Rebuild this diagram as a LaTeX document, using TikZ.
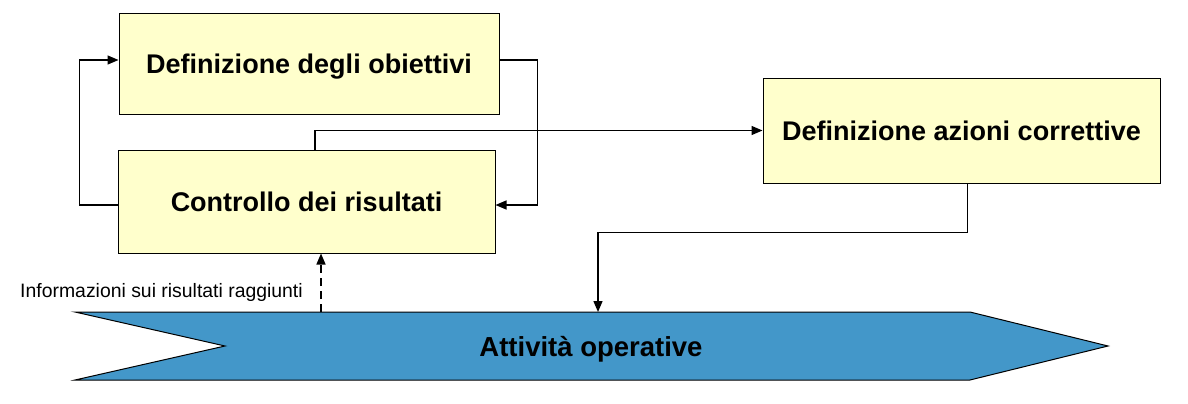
\documentclass[tikz,border=0pt]{standalone}
\usepackage{fontspec}
\setmainfont{Liberation Sans}
\usepackage{xcolor}
\usetikzlibrary{arrows.meta}
\definecolor{boxyellow}{HTML}{FFFFCC}
\definecolor{opsblue}{HTML}{4397C9}

\begin{document}
\begin{tikzpicture}[x=1pt,y=-1pt,
    box/.style={draw,line width=1pt,fill=boxyellow,inner sep=0pt,
        text height=19.3pt,text depth=0pt,
        font=\fontsize{27}{32}\selectfont\bfseries},
    link/.style={line width=1.4pt,-{Triangle[length=11pt,width=9pt]}}]
    \useasboundingbox (0,0) rectangle (1188,404);
    \node[box,minimum width=380pt,minimum height=100pt] (obj) at (309,64) {Definizione degli obiettivi};
    \node[box,minimum width=377pt,minimum height=103pt] (ctrl) at (306.5,201.5) {Controllo dei risultati};
    \node[box,minimum width=397pt,minimum height=105pt] (corr) at (961.5,130.5) {Definizione azioni correttive};
    \draw[line width=1pt,fill=opsblue] (75,312) -- (970,312) -- (1108,346) -- (970,380) -- (75,380) -- (225,346) -- cycle;
    \node[font=\fontsize{27.5}{32}\selectfont\bfseries,text height=19.6pt,text depth=0pt] (ops) at (591,347) {Attivit\`a operative};
    \coordinate (opsin) at (598,312);
    \coordinate (opsout) at (321,312);
    \node[font=\fontsize{19.4}{22}\selectfont] (info) at (161.5,292) {Informazioni sui risultati raggiunti};
    \draw[link] ([yshift=-3.5pt]ctrl.west) -- ++(-38,0) |- ([yshift=4pt]obj.west);
    \draw[link] ([yshift=4pt]obj.east) -- ++(38,0) |- ([yshift=-3.5pt]ctrl.east);
    \draw[link] ([xshift=8.5pt]ctrl.north) |- (corr.west);
    \draw[link] ([xshift=6pt]corr.south) -- ++(0,49) -| (opsin);
    \draw[link,dash pattern=on 8pt off 5pt] (opsout) -- (opsout |- ctrl.south);
\end{tikzpicture}
\end{document}
